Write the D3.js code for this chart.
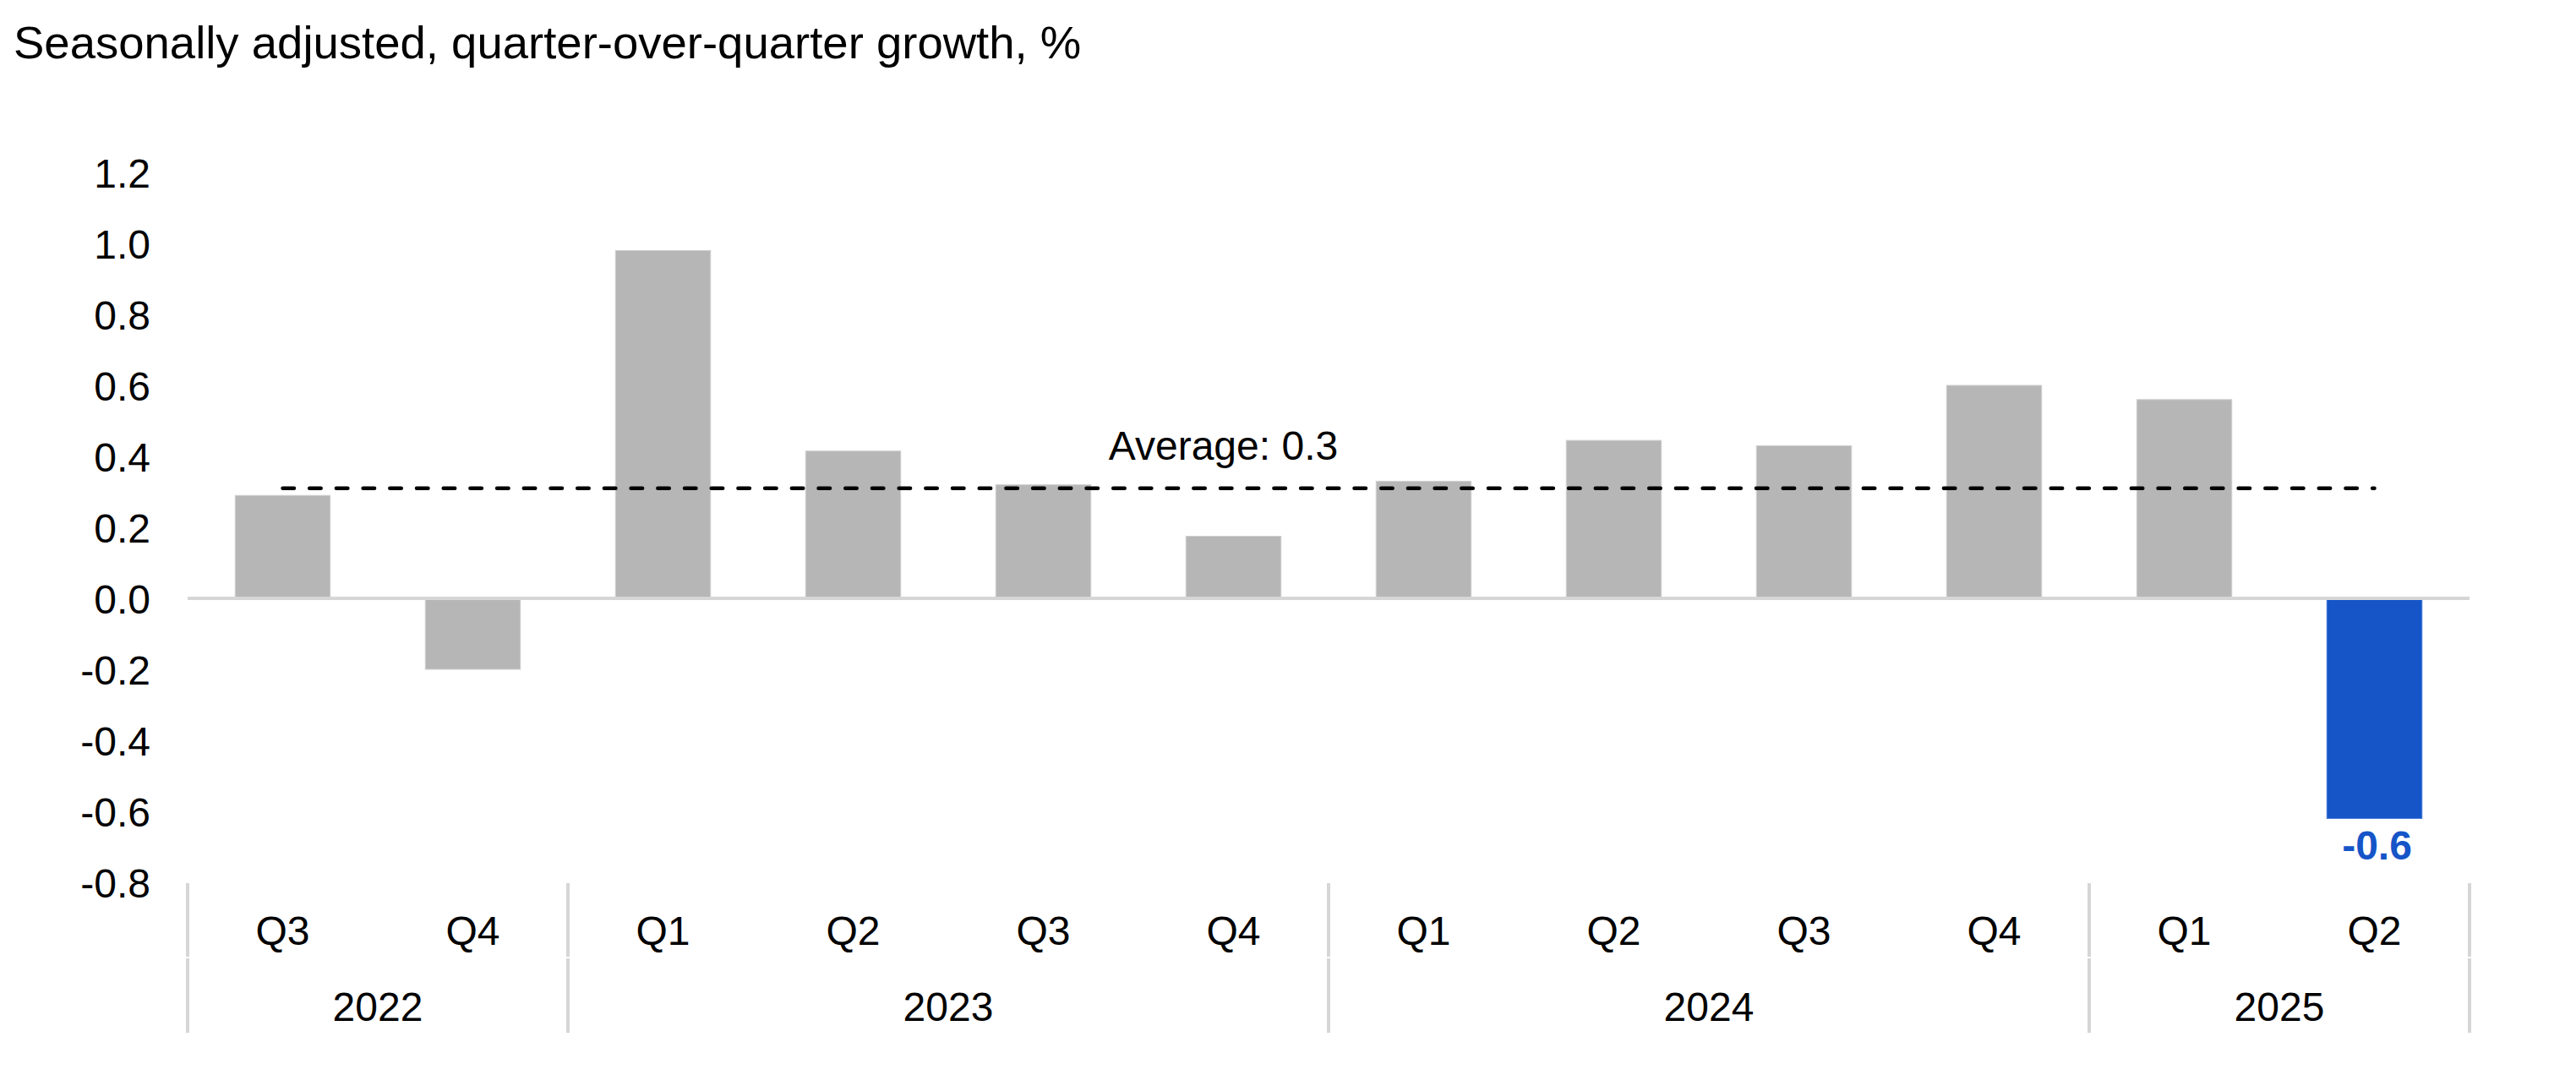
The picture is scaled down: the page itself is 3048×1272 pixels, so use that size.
<!DOCTYPE html>
<html>
<head>
<meta charset="utf-8">
<script src="https://cdn.jsdelivr.net/npm/d3@7/dist/d3.min.js"></script>
<style>
  body { margin: 0; background: #fff; }
  svg text { font-family: "Liberation Sans", Arial, sans-serif; }
</style>
</head>
<body>
<script>
(function () {

	var quarters = ["Q3", "Q4", "Q1", "Q2", "Q3", "Q4", "Q1", "Q2", "Q3", "Q4", "Q1", "Q2"],
		years = ["2022", "2022", "2023", "2023", "2023", "2023", "2024", "2024", "2024", "2024", "2025", "2025"],
		growth = [0.29, -0.2, 0.98, 0.415, 0.32, 0.175, 0.33, 0.445, 0.43, 0.6, 0.56, -0.62],
		yTicks = [-0.8, -0.6, -0.4, -0.2, 0, 0.2, 0.4, 0.6, 0.8, 1.0, 1.2],
		title = "Seasonally adjusted, quarter-over-quarter growth, %",
		w = 3048,
		h = 1272;

	var avg = d3.mean(growth),
		last = growth.length - 1;

	var svg = d3.select("body")
		.append("svg")
		.attr("width", w)
		.attr("height", h);

	var x = d3.scaleBand()
		.domain(d3.range(growth.length))
		.range([222, 2922])
		.paddingInner(0.5)
		.paddingOuter(0.25);

	var y = d3.scaleLinear()
		.domain([-0.8, 1.2])
		.range([1044, 204]);

	// title
	svg.append("text")
		.attr("x", 16)
		.attr("y", 69)
		.attr("font-size", 54.5)
		.attr("fill", "#000")
		.text(title);

	// y axis, labels only
	var yAxis = svg.append("g")
		.attr("transform", "translate(178,0)")
		.call(d3.axisLeft(y)
			.tickValues(yTicks)
			.tickSize(0)
			.tickPadding(0)
			.tickFormat(function (d) { return d.toFixed(1); }));

	yAxis.select(".domain").remove();
	yAxis.attr("font-family", null).attr("font-size", null);
	yAxis.selectAll("text")
		.attr("font-size", 48)
		.attr("fill", "#000")
		.attr("dy", "0.36em");

	// bars
	svg.selectAll("rect.bar")
		.data(growth)
		.enter()
		.append("rect")
		.attr("class", "bar")
		.attr("x", function (d, i) { return x(i); })
		.attr("width", x.bandwidth())
		.attr("y", function (d) { return y(Math.max(0, d)); })
		.attr("height", function (d) { return Math.abs(y(d) - y(0)); })
		.attr("fill", function (d, i) { return i === last ? "#1555c8" : "#b6b6b6"; })
		.attr("stroke", function (d, i) { return i === last ? "#3d74d6" : "#cfcfcf"; })
		.attr("stroke-width", 1);

	// zero line
	svg.append("line")
		.attr("x1", x.range()[0])
		.attr("x2", x.range()[1])
		.attr("y1", y(0))
		.attr("y2", y(0))
		.attr("stroke", "#d6d6d6")
		.attr("stroke-width", 4);

	// average line, from first to last bar centre
	svg.append("line")
		.attr("x1", x(0) + x.bandwidth() / 2)
		.attr("x2", x(last) + x.bandwidth() / 2)
		.attr("y1", y(avg))
		.attr("y2", y(avg))
		.attr("stroke", "#000")
		.attr("stroke-width", 4.5)
		.attr("stroke-linecap", "round")
		.attr("stroke-dasharray", "13.5 18.2");

	svg.append("text")
		.attr("x", x(5) + x.bandwidth() / 2 - 12)
		.attr("y", y(avg) - 34)
		.attr("text-anchor", "middle")
		.attr("font-size", 48)
		.attr("fill", "#000")
		.text("Average: " + avg.toFixed(1));

	// value label on the last bar
	svg.append("text")
		.attr("x", x(last) + x.bandwidth() / 2 + 3)
		.attr("y", y(growth[last]) + 49)
		.attr("text-anchor", "middle")
		.attr("font-size", 48)
		.attr("font-weight", "bold")
		.attr("fill", "#1555c8")
		.text(growth[last].toFixed(1));

	// category axis: quarters row, years row, separators at year boundaries
	var step = x.step(),
		x0 = x.range()[0];

	svg.selectAll("text.quarter")
		.data(quarters)
		.enter()
		.append("text")
		.attr("class", "quarter")
		.attr("x", function (d, i) { return x(i) + x.bandwidth() / 2; })
		.attr("y", 1118)
		.attr("text-anchor", "middle")
		.attr("font-size", 48)
		.attr("fill", "#000")
		.text(function (d) { return d; });

	var groups = d3.groups(d3.range(years.length), function (i) { return years[i]; })
		.map(function (g) {
			return { year: g[0], start: g[1][0], end: g[1][g[1].length - 1] + 1 };
		});

	svg.selectAll("text.year")
		.data(groups)
		.enter()
		.append("text")
		.attr("class", "year")
		.attr("x", function (d) { return x0 + (d.start + d.end) / 2 * step; })
		.attr("y", 1208)
		.attr("text-anchor", "middle")
		.attr("font-size", 48)
		.attr("fill", "#000")
		.text(function (d) { return d.year; });

	var bounds = [0].concat(groups.map(function (d) { return d.end; }));

	svg.selectAll("line.sep-top")
		.data(bounds)
		.enter()
		.append("line")
		.attr("x1", function (d) { return x0 + d * step; })
		.attr("x2", function (d) { return x0 + d * step; })
		.attr("y1", 1045)
		.attr("y2", 1132)
		.attr("stroke", "#d6d6d6")
		.attr("stroke-width", 4);

	svg.selectAll("line.sep-bottom")
		.data(bounds)
		.enter()
		.append("line")
		.attr("x1", function (d) { return x0 + d * step; })
		.attr("x2", function (d) { return x0 + d * step; })
		.attr("y1", 1134)
		.attr("y2", 1222)
		.attr("stroke", "#d6d6d6")
		.attr("stroke-width", 4);

}());
</script>
</body>
</html>
